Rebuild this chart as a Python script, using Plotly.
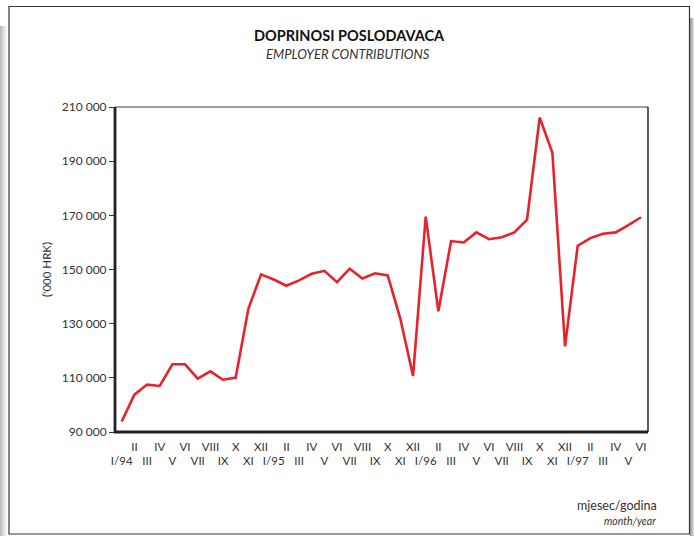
import plotly.graph_objects as go

months = ["I/94", "II", "III", "IV", "V", "VI", "VII", "VIII", "IX", "X", "XI", "XII",
          "I/95", "II", "III", "IV", "V", "VI", "VII", "VIII", "IX", "X", "XI", "XII",
          "I/96", "II", "III", "IV", "V", "VI", "VII", "VIII", "IX", "X", "XI", "XII",
          "I/97", "II", "III", "IV", "V", "VI"]

contributions = [93900, 103800, 107500, 107000, 115000, 115000, 109700, 112400, 109300, 110100,
                 135500, 148200, 146300, 144000, 146000, 148400, 149500, 145300, 150300, 146700,
                 148600, 147800, 131800, 110700, 169500, 134600, 160500, 160000, 163700, 161200,
                 161900, 163700, 168400, 206100, 193100, 121600, 158800, 161600, 163200, 163700,
                 166400, 169300]

y_ticks = [90000, 110000, 130000, 150000, 170000, 190000, 210000]
y_tick_labels = ["90 000", "110 000", "130 000", "150 000", "170 000", "190 000", "210 000"]

title_hr = "DOPRINOSI POSLODAVACA"
title_en = "EMPLOYER CONTRIBUTIONS"
y_title = "('000 HRK)"
x_title_hr = "mjesec/godina"
x_title_en = "month/year"

W, H = 694, 536
L, R, T, B = 115, 46, 107, 104
PW, PH = W - L - R, H - T - B

def px(x):
    return (x - L) / PW

def py(y):
    return (H - B - y) / PH

FONT = "Lato"
idx = list(range(len(months)))
tick_text = [m if i % 2 == 1 else "<br>" + m for i, m in enumerate(months)]

fig = go.Figure()
fig.add_trace(go.Scatter(x=idx, y=contributions, mode="lines",
                         line=dict(color="#e8222c", width=2.6), hoverinfo="skip"))

fig.update_layout(
    width=W, height=H,
    margin=dict(l=L, r=R, t=T, b=B),
    paper_bgcolor="white", plot_bgcolor="white",
    showlegend=False,
    font=dict(family=FONT, color="#333333"),
    xaxis=dict(range=[-0.53, 41.55], tickvals=idx, ticktext=tick_text,
               showgrid=False, zeroline=False, showline=False,
               ticks="", ticklabelstandoff=6,
               tickfont=dict(size=11.5, color="#333333"), tickangle=0),
    yaxis=dict(range=[90000, 210000], tickvals=y_ticks, ticktext=y_tick_labels,
               showgrid=False, zeroline=False, showline=False,
               ticks="outside", ticklen=5, tickwidth=1.2, tickcolor="#333333",
               tickfont=dict(size=12, color="#333333")),
)

shapes = []
# plot frame: top (grey, thin), right (dark, thin), left & bottom (thick)
shapes.append(dict(type="line", xref="paper", yref="paper", x0=0, x1=1, y0=1, y1=1,
                   line=dict(color="#808080", width=1.6)))
shapes.append(dict(type="line", xref="paper", yref="paper", x0=1, x1=1, y0=0, y1=1,
                   line=dict(color="#333333", width=1.6)))
shapes.append(dict(type="line", xref="paper", yref="paper", x0=0, x1=0, y0=py(433), y1=1,
                   line=dict(color="#222222", width=2.8)))
shapes.append(dict(type="line", xref="paper", yref="paper", x0=px(114), x1=1, y0=0, y1=0,
                   line=dict(color="#222222", width=2.8)))
# page frame
shapes.append(dict(type="rect", xref="paper", yref="paper", x0=px(9), x1=px(689.5),
                   y0=py(534), y1=py(6.5), line=dict(color="#333333", width=1.2), layer="below"))
# left shadow
for i, c in enumerate(["#bdbdbd", "#c8c8c8", "#d2d2d2", "#dcdcdc", "#e6e6e6", "#efefef", "#f6f6f6"]):
    shapes.append(dict(type="rect", xref="paper", yref="paper", x0=px(i), x1=px(i + 1),
                       y0=py(536), y1=py(26), line=dict(width=0), fillcolor=c, layer="below"))
# right shadow
for i, c in enumerate(["#9a9a9a", "#b0b0b0", "#c6c6c6", "#dcdcdc"]):
    shapes.append(dict(type="rect", xref="paper", yref="paper", x0=px(690 + i), x1=px(691 + i),
                       y0=py(536), y1=py(18), line=dict(width=0), fillcolor=c, layer="below"))
fig.update_layout(shapes=shapes)

ann = [
    dict(text="<b>" + title_hr + "</b>", x=px(349), y=py(35), font=dict(size=14.5, color="#111111")),
    dict(text="<i>" + title_en + "</i>", x=px(348), y=py(54), font=dict(size=13, color="#333333")),
    dict(text=y_title, x=px(46), y=py(270), textangle=-90, font=dict(size=11.5, color="#333333")),
    dict(text=x_title_hr, x=px(659), y=py(505), xanchor="right", font=dict(size=12.5, color="#333333")),
    dict(text="<i>" + x_title_en + "</i>", x=px(658), y=py(521), xanchor="right",
         font=dict(size=10.5, color="#333333")),
]
for a in ann:
    a.setdefault("xanchor", "center")
    fig.add_annotation(xref="paper", yref="paper", showarrow=False, yanchor="middle", **a)

fig.write_html("out.html", config={"displayModeBar": False},
               post_script="document.body.style.margin='0';document.body.style.overflow='hidden';")
